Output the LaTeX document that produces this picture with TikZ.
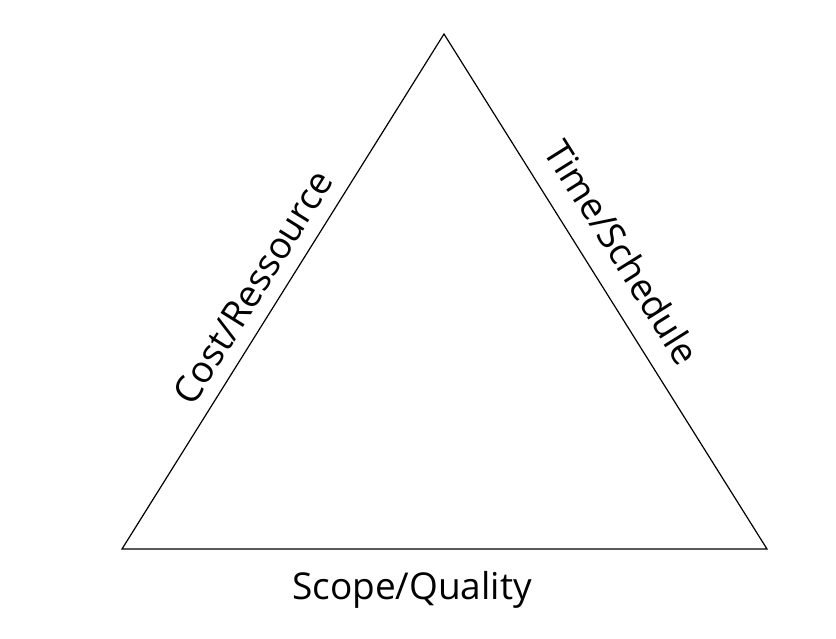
\documentclass[tikz,border=0pt]{standalone}
\usepackage{fontspec}
\setmainfont{Open Sans}
\begin{document}
\begin{tikzpicture}[x=1pt,y=-1pt,
    sidelabel/.style={font=\fontsize{37}{41}\selectfont, inner sep=0pt}]
        \useasboundingbox (0,0) rectangle (836,638);
        \coordinate (top) at (444,34);
        \coordinate (left) at (122,549);
        \coordinate (right) at (767,549);
        \draw[line width=1.2pt] (left) -- (top) -- (right) -- cycle;
        \path (left) -- node[sidelabel, sloped, pos=0.48, above, yshift=14pt] (cost) {Cost/Ressource} (top);
        \path (top) -- node[sidelabel, sloped, pos=0.46, above, yshift=21pt] (time) {Time/Schedule} (right);
        \node[sidelabel] (scope) at (412,590) {Scope/Quality};
    \end{tikzpicture}
\end{document}
